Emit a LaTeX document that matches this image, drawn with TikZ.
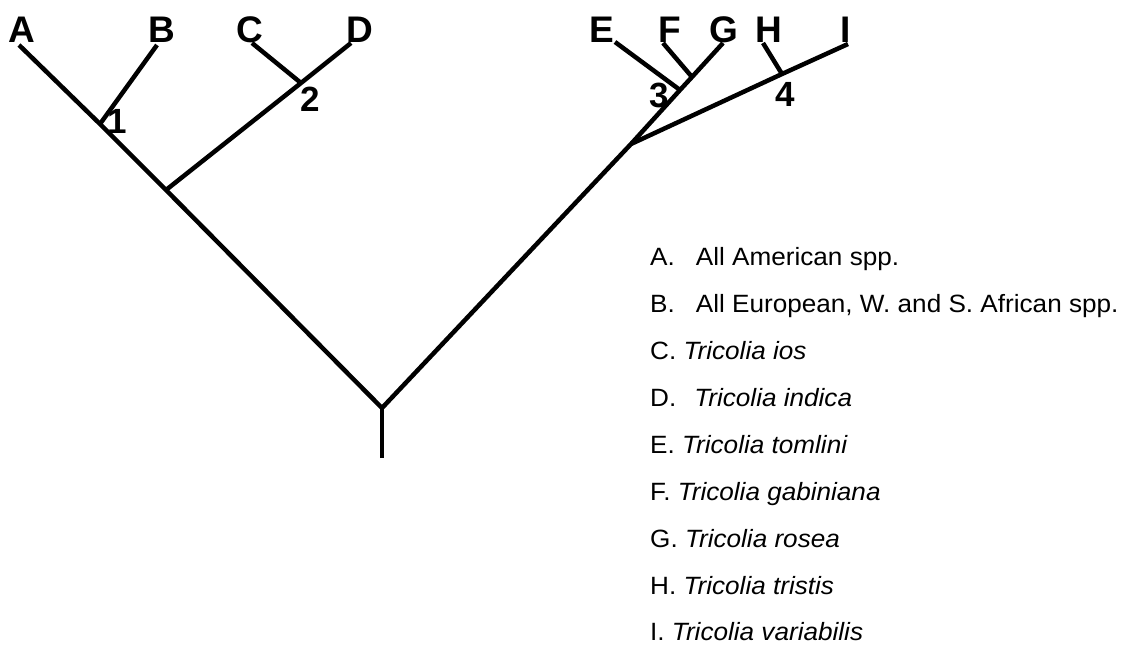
\documentclass[tikz,border=0pt]{standalone}
\usepackage{fontspec}
\setmainfont{Liberation Sans}[BoldFont={Liberation Sans Bold},ItalicFont={Liberation Sans Italic}]
\newfontfamily\tipfont{Liberation Sans Bold}
\newfontfamily\legfont{Liberation Sans}[FakeStretch=1.045,ItalicFont={Liberation Sans Italic},ItalicFeatures={FakeStretch=1.045}]
\begin{document}
\begin{tikzpicture}[x=1pt,y=-1pt,
  branch/.style={line width=4.5pt},
  tip/.style={font=\fontsize{37}{37}\tipfont, anchor=base, inner sep=0pt},
  num/.style={font=\fontsize{35}{35}\tipfont, anchor=base, inner sep=0pt},
  legend/.style={font=\fontsize{25}{25}\legfont, anchor=base west, inner sep=0pt}]
\useasboundingbox (0,0) rectangle (1126,645);
% tree coordinates
\coordinate (base) at (382,458);
\coordinate (root) at (382,408);
\coordinate (nL) at (166,190);
\coordinate (n1) at (100,124);
\coordinate (n2) at (301,83);
\coordinate (nR) at (631,144);
\coordinate (n3) at (680,90);
\coordinate (nFG) at (692,77);
\coordinate (n4) at (782,74);
\coordinate (tA) at (19,45);
\coordinate (tB) at (157,45);
\coordinate (tC) at (252,43);
\coordinate (tD) at (351,43);
\coordinate (tE) at (615,42);
\coordinate (tF) at (663,43);
\coordinate (tG) at (723,43);
\coordinate (tH) at (763,43);
\coordinate (tI) at (848,44);
% branches
\draw[branch] (base) -- (root);
\draw[branch] (root) -- (nL) -- (n1) -- (tA);
\draw[branch] (n1) -- (tB);
\draw[branch] (nL) -- (n2) -- (tD);
\draw[branch] (n2) -- (tC);
\draw[branch] (root) -- (nR) -- (n3) -- (nFG) -- (tG);
\draw[branch] (n3) -- (tE);
\draw[branch] (nFG) -- (tF);
\draw[branch] (nR) -- (n4) -- (tI);
\draw[branch] (n4) -- (tH);
% tip labels
\node[tip] (lA) at (22,42) {A};
\node[tip] (lB) at (162,42) {B};
\node[tip] (lC) at (250,42) {C};
\node[tip] (lD) at (360,42) {D};
\node[tip] (lE) at (602,42) {E};
\node[tip] (lF) at (670,42) {F};
\node[tip] (lG) at (724,42) {G};
\node[tip] (lH) at (769,42) {H};
\node[tip] (lI) at (846,42) {I};
% node numbers
\node[num] (k1) at (117,133) {1};
\node[num] (k2) at (310,111) {2};
\node[num] (k3) at (659,107) {3};
\node[num] (k4) at (785,106) {4};
% legend
\node[legend] (gA) at (650,265) {A.\hspace{21pt}All American spp.};
\node[legend] (gB) at (650,312) {B.\hspace{21pt}All European, W. and S. African spp.};
\node[legend] (gC) at (650,359) {C. \textit{Tricolia ios}};
\node[legend] (gD) at (650,406) {D.\hspace{18pt}\textit{Tricolia indica}};
\node[legend] (gE) at (650,453) {E. \textit{Tricolia tomlini}};
\node[legend] (gF) at (650,500) {F. \textit{Tricolia gabiniana}};
\node[legend] (gG) at (650,547) {G. \textit{Tricolia rosea}};
\node[legend] (gH) at (650,594) {H. \textit{Tricolia tristis}};
\node[legend] (gI) at (650,640) {I. \textit{Tricolia variabilis}};
\end{tikzpicture}
\end{document}
